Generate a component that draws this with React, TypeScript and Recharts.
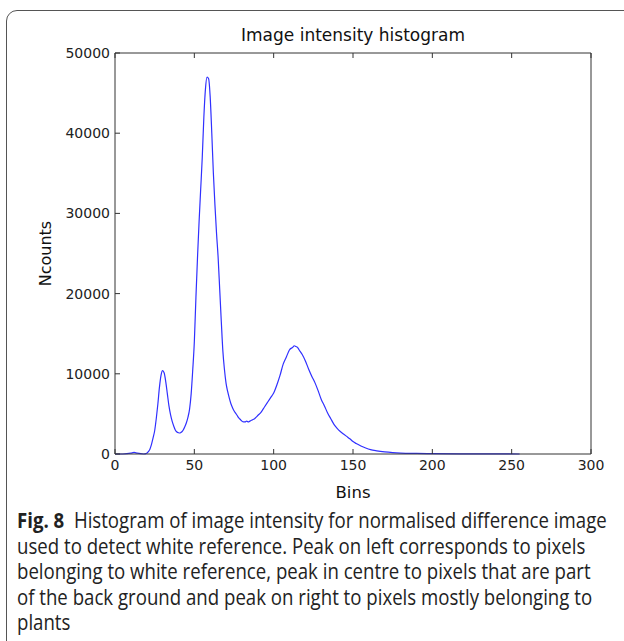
import React from 'react';
import { LineChart, Line, XAxis, YAxis, Label } from 'recharts';

// bin positions and counts
const bins = [
  0, 5, 10, 12, 14, 18, 20, 21, 22, 23, 24, 25, 26, 27, 28, 29, 30, 31, 32, 33, 34, 35, 36, 37, 38, 39,
  40, 41, 42, 43, 44, 45, 46, 47, 48, 49, 50, 51, 52, 53, 54, 55, 56, 57, 58, 59, 60, 61, 62, 63, 64,
  65, 66, 67, 68, 69, 70, 71, 72, 73, 74, 75, 76, 77, 78, 79, 80, 81, 82, 83, 84, 85, 86, 87, 88, 89,
  90, 92, 94, 96, 98, 100, 102, 104, 106, 108, 110, 112, 113, 114, 115, 116, 118, 120, 122, 124, 126,
  128, 130, 132, 134, 136, 138, 140, 142, 144, 146, 148, 150, 152, 155, 158, 161, 165, 170, 175, 180,
  190, 200, 220, 240, 255,
];
const counts = [
  0, 0, 100, 200, 100, 0, 100, 300, 600, 1200, 2000, 2900, 4400, 6200, 8300, 9800, 10400, 10100, 9000,
  7500, 6000, 4900, 4100, 3500, 3000, 2750, 2650, 2620, 2750, 3000, 3400, 3900, 4600, 5600, 7500,
  10500, 14000, 19500, 24500, 29000, 33000, 37000, 42000, 45500, 47000, 46800, 44500, 40000, 35000,
  31000, 27500, 24500, 20500, 16500, 12800, 10500, 8800, 7800, 7000, 6300, 5800, 5400, 5100, 4800,
  4500, 4300, 4100, 4000, 4000, 4100, 4000, 4100, 4200, 4300, 4400, 4600, 4800, 5200, 5800, 6400,
  7000, 7600, 8600, 9800, 11200, 12100, 13000, 13300, 13500, 13400, 13300, 13000, 12400, 11600,
  10600, 9700, 8900, 7900, 6800, 6000, 5100, 4400, 3700, 3200, 2800, 2500, 2200, 1900, 1550, 1300,
  1000, 750, 550, 400, 270, 180, 120, 70, 40, 20, 10, 0,
];
const xTicks = [0, 50, 100, 150, 200, 250, 300];
const yTicks = [0, 10000, 20000, 30000, 40000, 50000];

const captionLines = [
  'used to detect white reference. Peak on left corresponds to pixels',
  'belonging to white reference, peak in centre to pixels that are part',
  'of the back ground and peak on right to pixels mostly belonging to',
  'plants',
];

const data = bins.map((b, i) => ({ bin: b, count: counts[i] }));

const axisColor = '#333';
const tickFont = { fontFamily: 'DejaVu Sans', fontSize: 14, fill: '#222' };
const noLabel = () => <g />;

const App = () => {
  return (
    <div style={{ position: 'absolute', left: 0, top: 0, width: 624, height: 641, overflow: 'hidden', background: '#fff' }}>
      {/* figure frame */}
      <div
        style={{
          position: 'absolute', left: 6, top: 10, width: 700, height: 700,
          border: '1px solid #555', borderTopLeftRadius: 11, boxSizing: 'border-box',
        }}
      />
      <div
        style={{
          position: 'absolute', left: 115, width: 476, top: 25, textAlign: 'center',
          fontFamily: 'DejaVu Sans', fontSize: 17, lineHeight: '20px', color: '#111',
        }}
      >
        Image intensity histogram
      </div>
      <div style={{ position: 'absolute', left: 0, top: 0 }}>
        <LineChart width={624} height={520} data={data} margin={{ top: 52, right: 32, bottom: 36, left: 55 }}>
          <XAxis
            dataKey="bin"
            type="number"
            domain={[0, 300]}
            ticks={xTicks}
            allowDataOverflow
            stroke={axisColor}
            tickSize={-5}
            tickMargin={11}
            tick={tickFont}
            height={30}
          >
            <Label value="Bins" position="bottom" offset={2} style={{ fontFamily: 'DejaVu Sans', fontSize: 16.5, fill: '#111' }} />
          </XAxis>
          <XAxis
            xAxisId="top"
            orientation="top"
            dataKey="bin"
            type="number"
            domain={[0, 300]}
            ticks={xTicks}
            stroke={axisColor}
            tickSize={-5}
            tick={noLabel}
            height={1}
          />
          <YAxis
            type="number"
            domain={[0, 50000]}
            ticks={yTicks}
            stroke={axisColor}
            tickSize={-5}
            tickMargin={10}
            tick={tickFont}
            width={60}
          >
            <Label
              value="Ncounts"
              angle={-90}
              position="left"
              offset={10}
              style={{ fontFamily: 'DejaVu Sans', fontSize: 16, fill: '#111', textAnchor: 'middle' }}
            />
          </YAxis>
          <YAxis
            yAxisId="right"
            orientation="right"
            type="number"
            domain={[0, 50000]}
            ticks={yTicks}
            stroke={axisColor}
            tickSize={-5}
            tick={noLabel}
            width={1}
          />
          <Line
            type="monotone"
            dataKey="count"
            stroke="#3030ff"
            strokeWidth={1.2}
            dot={false}
            isAnimationActive={false}
          />
        </LineChart>
      </div>
      {/* caption */}
      <div
        style={{
          position: 'absolute', left: 17, top: 508, whiteSpace: 'nowrap',
          fontFamily: 'Open Sans', fontSize: 21, lineHeight: '25.5px', color: '#222',
          transform: 'scaleX(0.887)', transformOrigin: 'left top',
        }}
      >
        <b>Fig. 8</b>&nbsp; Histogram of image intensity for normalised difference image
        {captionLines.map((l) => (
          <div key={l}>{l}</div>
        ))}
      </div>
    </div>
  );
};

export default App;
